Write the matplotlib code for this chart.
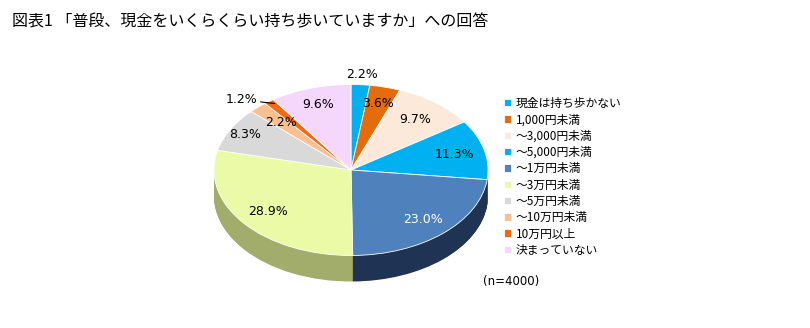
import numpy as np
import matplotlib.pyplot as plt

plt.rcParams['font.family'] = ['Noto Sans CJK JP', 'DejaVu Sans']

# 回答カテゴリと割合(%)
categories = ['現金は持ち歩かない', '1,000円未満', '～3,000円未満', '～5,000円未満',
              '～1万円未満', '～3万円未満', '～5万円未満', '～10万円未満',
              '10万円以上', '決まっていない']
shares = [2.2, 3.6, 9.7, 11.3, 23.0, 28.9, 8.3, 2.2, 1.2, 9.6]
n_total = 4000

top_colors = ['#00B0F0', '#E46C0A', '#FDE9D9', '#00B0F0', '#4F81BD',
              '#EAFAA6', '#D9D9D9', '#FAC090', '#F36A10', '#F4D7FB']
side_colors = ['#00709A', '#8A4006', '#A89A90', '#00709A', '#1F3354',
               '#A3AD6B', '#8A8A8A', '#A07A5A', '#9A4008', '#9A889E']
# ラベルの中心からの距離(半径比)
label_r = [1.12, 0.80, 0.76, 0.78, 0.78, 0.78, 0.88, 0.75, None, 0.80]
label_col = ['black'] * 10
label_col[4] = 'white'

fig = plt.figure(figsize=(8.1, 3.28), dpi=100)
W, H = 810, 328
# 円の中心 (351,170)px、横半径137px、縦半径85.5px、厚み26px
cx, cy, rx, ry = 351, 170, 137, 85.5
depth = 26 / ry
x0, x1, y0, y1 = 190, 510, 60, 300
ax = fig.add_axes([x0 / W, 1 - y1 / H, (x1 - x0) / W, (y1 - y0) / H])

# 側面:下にずらした円を重ねる
for k in np.linspace(depth, 0.01, 50):
    ax.pie(shares, colors=side_colors, startangle=90, counterclock=False,
           center=(0, -k), wedgeprops=dict(linewidth=0, antialiased=True))

wedges, _ = ax.pie(shares, colors=top_colors, startangle=90, counterclock=False,
                   wedgeprops=dict(edgecolor='white', linewidth=0.6))

ax.set_aspect('auto')
ax.set_xlim((x0 - cx) / rx, (x1 - cx) / rx)
ax.set_ylim((cy - y1) / ry, (cy - y0) / ry)
ax.axis('off')

cum = np.cumsum([0] + shares)
for i, v in enumerate(shares):
    mid = 90 - 3.6 * (cum[i] + v / 2)
    t = np.deg2rad(mid)
    txt = f'{v:.1f}%'
    if label_r[i] is None:
        ax.annotate(txt, xy=(0.93 * np.cos(t), 0.97 * np.sin(t)),
                    xytext=(-0.68, 0.82), ha='right', va='center',
                    fontsize=9, family='DejaVu Sans', color='black',
                    arrowprops=dict(arrowstyle='-', color='black', lw=0.8,
                                    shrinkA=0, shrinkB=0))
    else:
        r = label_r[i]
        ax.text(r * np.cos(t), r * np.sin(t), txt, ha='center', va='center',
                fontsize=9, family='DejaVu Sans', color=label_col[i])

fig.legend(wedges, categories, loc='upper left',
           bbox_to_anchor=(498 / W, 1 - 91 / H), frameon=False,
           fontsize=8.5, handlelength=0.6, handleheight=0.6,
           handletextpad=0.4, labelspacing=0.28, borderpad=0)

fig.text(483 / W, 1 - 282 / H, f'(n={n_total})', fontsize=8.5,
         ha='left', va='center', family='DejaVu Sans')

fig.text(12 / W, 1 - 22 / H,
         '図表1 「普段、現金をいくらくらい持ち歩いていますか」への回答',
         fontsize=11.5, ha='left', va='center')

fig.savefig('out.png', dpi=100)
